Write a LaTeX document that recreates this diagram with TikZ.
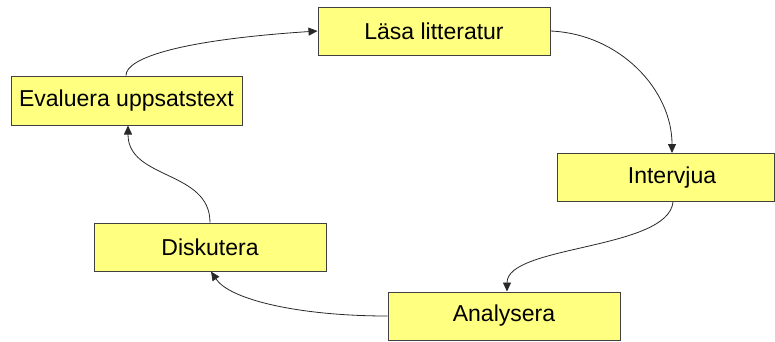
\documentclass[tikz,border=0pt]{standalone}
\usepackage{fontspec}
\setmainfont{Liberation Sans}
\usetikzlibrary{arrows.meta}
\definecolor{boxfill}{RGB}{255,255,128}
\definecolor{boxline}{RGB}{64,64,64}
\definecolor{flowline}{RGB}{40,40,40}
\begin{document}
\begin{tikzpicture}[x=1pt,y=-1pt,
  stage/.style={draw=boxline, line width=1pt, fill=boxfill, rectangle,
    minimum width=232pt, minimum height=48pt, inner sep=0pt,
    font=\fontsize{23}{27}\selectfont},
  flow/.style={draw=flowline, line width=0.8pt,
    -{Triangle[length=9pt,width=8pt]}}]
\useasboundingbox (0,0) rectangle (775,341);

% process stages
\node[stage] (lasa) at (434,31) {Läsa litteratur};
\node[stage, minimum width=217pt] (intervjua) at (665.5,177.5) {\hspace*{13pt}Intervjua};
\node[stage] (analysera) at (504,316) {Analysera};
\node[stage] (diskutera) at (210,247) {Diskutera};
\node[stage, minimum width=231pt, minimum height=49pt] (evaluera) at (126.5,100.5) {Evaluera uppsatstext};

% cycle connectors
\coordinate (evalTop) at (evaluera.north -| 126,0);
\coordinate (intTop) at (intervjua.north -| 672,0);
\coordinate (intBot) at (intervjua.south -| 673,0);
\coordinate (anaTop) at (analysera.north -| 507,0);
\coordinate (disBot) at (diskutera.south -| 211,0);
\coordinate (disTop) at (diskutera.north -| 210,0);
\coordinate (evalBot) at (evaluera.south -| 128,0);

\draw[flow] (evalTop) .. controls (126,58) and (180,40) .. (lasa.west);
\draw[flow] (lasa.east) .. controls (620,34) and (672,90) .. (intTop);
\draw[flow] (intBot) .. controls (668,250) and (507,245) .. (anaTop);
\draw[flow] (analysera.west) .. controls (300,316) and (230,300) .. (disBot);
\draw[flow] (disTop) .. controls (210,170) and (128,180) .. (evalBot);
\end{tikzpicture}
\end{document}
